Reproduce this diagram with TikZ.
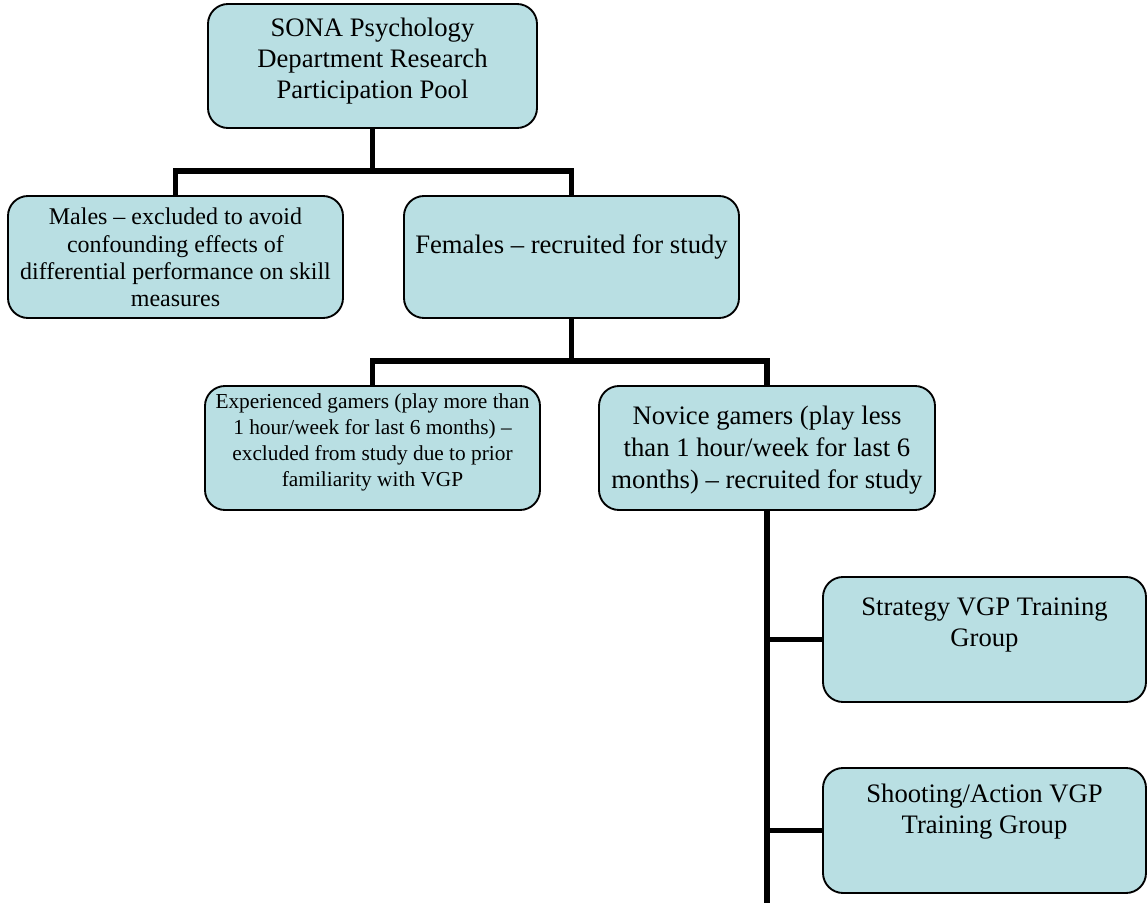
\documentclass[tikz,border=0pt]{standalone}
\usepackage{fontspec}
\setmainfont{Liberation Serif}
\definecolor{poolblue}{RGB}{185,223,227}
\tikzset{every picture/.style={line width=0.75pt}}
\tikzset{
  orgbox/.style={draw=black, line width=1.4pt, fill=poolblue, rounded corners=15pt, inner sep=0pt, outer sep=0pt},
  bus/.style={draw=black, line width=4pt},
}
% width, height, first baseline, text
\newcommand{\boxtext}[4]{\parbox[c][#2][t]{#1}{\centering\rule{0pt}{#3}#4\par}}

\begin{document}
\begin{tikzpicture}[x=0.75pt,y=0.75pt,yscale=-1,xscale=1]
\useasboundingbox (0,0) rectangle (1147,903);

%Shape: Rounded Rect
\node (pool) [orgbox, font=\fontsize{20}{23.3}\selectfont] at (372.5,66) {\boxtext{246.75pt}{93pt}{24.5pt}{SONA Psychology\\Department Research\\Participation Pool}};
%Shape: Rounded Rect
\node (males) [orgbox, font=\fontsize{18}{20.5}\selectfont] at (175.5,257) {\boxtext{251.25pt}{91.5pt}{21.5pt}{Males – excluded to avoid\\confounding effects of\\differential performance on skill\\measures}};
%Shape: Rounded Rect
\node (females) [orgbox, font=\fontsize{20}{23}\selectfont] at (571.5,257) {\boxtext{251.25pt}{91.5pt}{43pt}{Females – recruited for study}};
%Shape: Rounded Rect
\node (expd) [orgbox, font=\fontsize{16}{19.5}\selectfont] at (372.5,448) {\boxtext{251.25pt}{93pt}{17pt}{Experienced gamers (play more than\\1 hour/week for last 6 months) –\\excluded from study due to prior\\familiarity with VGP}};
%Shape: Rounded Rect
\node (novice) [orgbox, font=\fontsize{20}{24}\selectfont] at (767,448) {\boxtext{252pt}{93pt}{28.5pt}{Novice gamers (play less\\than 1 hour/week for last 6\\months) – recruited for study}};
%Shape: Rounded Rect
\node (strategy) [orgbox, font=\fontsize{20}{23}\selectfont] at (984.5,639.5) {\boxtext{242.25pt}{93.75pt}{29pt}{Strategy VGP Training\\Group}};
%Shape: Rounded Rect
\node (shooting) [orgbox, font=\fontsize{20}{23.5}\selectfont] at (984.5,830.5) {\boxtext{242.25pt}{93.75pt}{25.5pt}{Shooting/Action VGP\\Training Group}};

%Straight Lines
\coordinate (busA) at (372.5,171);
\coordinate (busB) at (571.5,361);
\coordinate (tail) at (767,910);
\draw [bus] (pool.south) -- (busA);
\draw [bus] (males.north) |- (busA) -| (females.north);
\draw [bus] (females.south) -- (busB);
\draw [bus] (expd.north) |- (busB) -| (novice.north);
\draw [bus] (novice.south) -- (tail);
\draw [bus] (novice.south |- strategy.west) -- (strategy.west);
\draw [bus] (novice.south |- shooting.west) -- (shooting.west);

\end{tikzpicture}
\end{document}
